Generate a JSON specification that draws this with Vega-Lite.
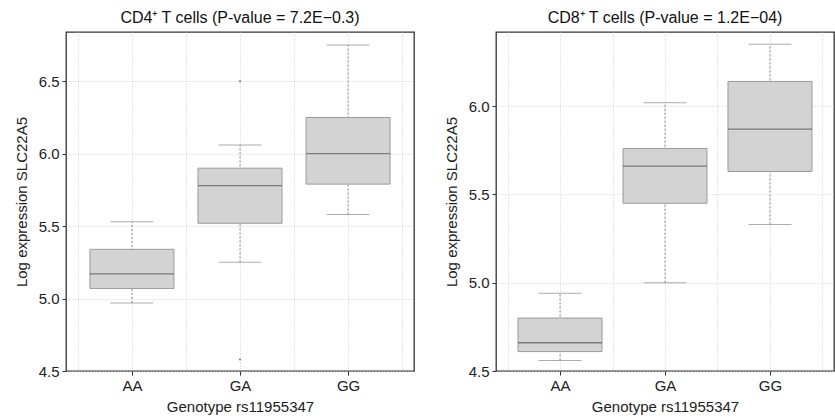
{
  "$schema": "https://vega.github.io/schema/vega-lite/v6.json",
  "padding": {"left": 13, "top": 9, "right": 0, "bottom": 2},
  "spacing": 28,
  "datasets": {
    "cd4": [
      {"genotype": "AA", "lower": 4.97, "q1": 5.07, "median": 5.17, "q3": 5.34, "upper": 5.53},
      {"genotype": "GA", "lower": 5.25, "q1": 5.52, "median": 5.78, "q3": 5.9, "upper": 6.06},
      {"genotype": "GG", "lower": 5.58, "q1": 5.79, "median": 6.0, "q3": 6.25, "upper": 6.75}
    ],
    "cd4out": [
      {"genotype": "GA", "value": 6.5},
      {"genotype": "GA", "value": 4.58}
    ],
    "cd8": [
      {"genotype": "AA", "lower": 4.56, "q1": 4.61, "median": 4.66, "q3": 4.8, "upper": 4.94},
      {"genotype": "GA", "lower": 5.0, "q1": 5.45, "median": 5.66, "q3": 5.76, "upper": 6.02},
      {"genotype": "GG", "lower": 5.33, "q1": 5.63, "median": 5.87, "q3": 6.14, "upper": 6.35}
    ]
  },
  "hconcat": [
    {
      "width": 348,
      "height": 339,
      "title": {"text": "CD4⁺ T cells (P-value = 7.2E−0.3)"},
      "data": {"name": "cd4"},
      "encoding": {
        "x": {
          "field": "genotype", "type": "nominal",
          "scale": {"type": "point", "domain": ["a", "AA", "b", "GA", "c", "GG", "d"], "padding": 0.22},
          "axis": {
            "title": "Genotype rs11955347",
            "labelAngle": 0,
            "labelExpr": "indexof(['AA','GA','GG'], datum.value) >= 0 ? datum.value : ''",
            "tickOpacity": {"condition": {"test": "indexof(['AA','GA','GG'], datum.value) >= 0", "value": 1}, "value": 0}
          }
        }
      },
      "layer": [
        {
          "mark": {"type": "rule", "color": "#8a8a8a", "strokeDash": [2, 2], "strokeWidth": 1},
          "encoding": {
            "y": {"field": "lower", "type": "quantitative",
              "scale": {"domain": [4.5, 6.84], "nice": false, "zero": false},
              "axis": {"title": "Log expression SLC22A5", "values": [4.5, 5, 5.5, 6, 6.5], "format": ".1f"}},
            "y2": {"field": "upper"}
          }
        },
        {"mark": {"type": "tick", "color": "#8a8a8a", "size": 43, "thickness": 1}, "encoding": {"y": {"field": "upper", "type": "quantitative"}}},
        {"mark": {"type": "tick", "color": "#8a8a8a", "size": 43, "thickness": 1}, "encoding": {"y": {"field": "lower", "type": "quantitative"}}},
        {
          "mark": {"type": "bar", "size": 84, "fill": "#d3d3d3", "stroke": "#9a9a9a", "strokeWidth": 1},
          "encoding": {"y": {"field": "q1", "type": "quantitative"}, "y2": {"field": "q3"}}
        },
        {"mark": {"type": "tick", "color": "#555555", "size": 84, "thickness": 1.3}, "encoding": {"y": {"field": "median", "type": "quantitative"}}},
        {
          "data": {"name": "cd4out"},
          "mark": {"type": "point", "filled": true, "color": "#777777", "size": 4, "opacity": 1},
          "encoding": {"y": {"field": "value", "type": "quantitative"}}
        }
      ]
    },
    {
      "width": 338,
      "height": 339,
      "title": {"text": "CD8⁺ T cells (P-value = 1.2E−04)"},
      "data": {"name": "cd8"},
      "encoding": {
        "x": {
          "field": "genotype", "type": "nominal",
          "scale": {"type": "point", "domain": ["a", "AA", "b", "GA", "c", "GG", "d"], "padding": 0.22},
          "axis": {
            "title": "Genotype rs11955347",
            "labelAngle": 0,
            "labelExpr": "indexof(['AA','GA','GG'], datum.value) >= 0 ? datum.value : ''",
            "tickOpacity": {"condition": {"test": "indexof(['AA','GA','GG'], datum.value) >= 0", "value": 1}, "value": 0}
          }
        }
      },
      "layer": [
        {
          "mark": {"type": "rule", "color": "#8a8a8a", "strokeDash": [2, 2], "strokeWidth": 1},
          "encoding": {
            "y": {"field": "lower", "type": "quantitative",
              "scale": {"domain": [4.5, 6.42], "nice": false, "zero": false},
              "axis": {"title": "Log expression SLC22A5", "values": [4.5, 5, 5.5, 6], "format": ".1f"}},
            "y2": {"field": "upper"}
          }
        },
        {"mark": {"type": "tick", "color": "#8a8a8a", "size": 43, "thickness": 1}, "encoding": {"y": {"field": "upper", "type": "quantitative"}}},
        {"mark": {"type": "tick", "color": "#8a8a8a", "size": 43, "thickness": 1}, "encoding": {"y": {"field": "lower", "type": "quantitative"}}},
        {
          "mark": {"type": "bar", "size": 84, "fill": "#d3d3d3", "stroke": "#9a9a9a", "strokeWidth": 1},
          "encoding": {"y": {"field": "q1", "type": "quantitative"}, "y2": {"field": "q3"}}
        },
        {"mark": {"type": "tick", "color": "#555555", "size": 84, "thickness": 1.3}, "encoding": {"y": {"field": "median", "type": "quantitative"}}}
      ]
    }
  ],
  "config": {
    "font": "Liberation Sans",
    "view": {"stroke": "#333333", "strokeWidth": 1.3},
    "title": {"fontSize": 16, "fontWeight": "normal", "color": "#111111", "offset": 6, "anchor": "middle"},
    "axis": {
      "domain": false,
      "grid": true,
      "gridColor": "#cfcfcf",
      "gridDash": [1, 2],
      "gridWidth": 1,
      "ticks": true,
      "tickColor": "#333333",
      "tickSize": 4,
      "labelFont": "Liberation Sans",
      "labelFontSize": 15,
      "labelColor": "#222222",
      "labelPadding": 3,
      "titleFont": "Liberation Sans",
      "titleFontSize": 15,
      "titleFontWeight": "normal",
      "titleColor": "#222222"
    },
    "axisX": {"titlePadding": 6},
    "axisY": {"titlePadding": 9}
  }
}
